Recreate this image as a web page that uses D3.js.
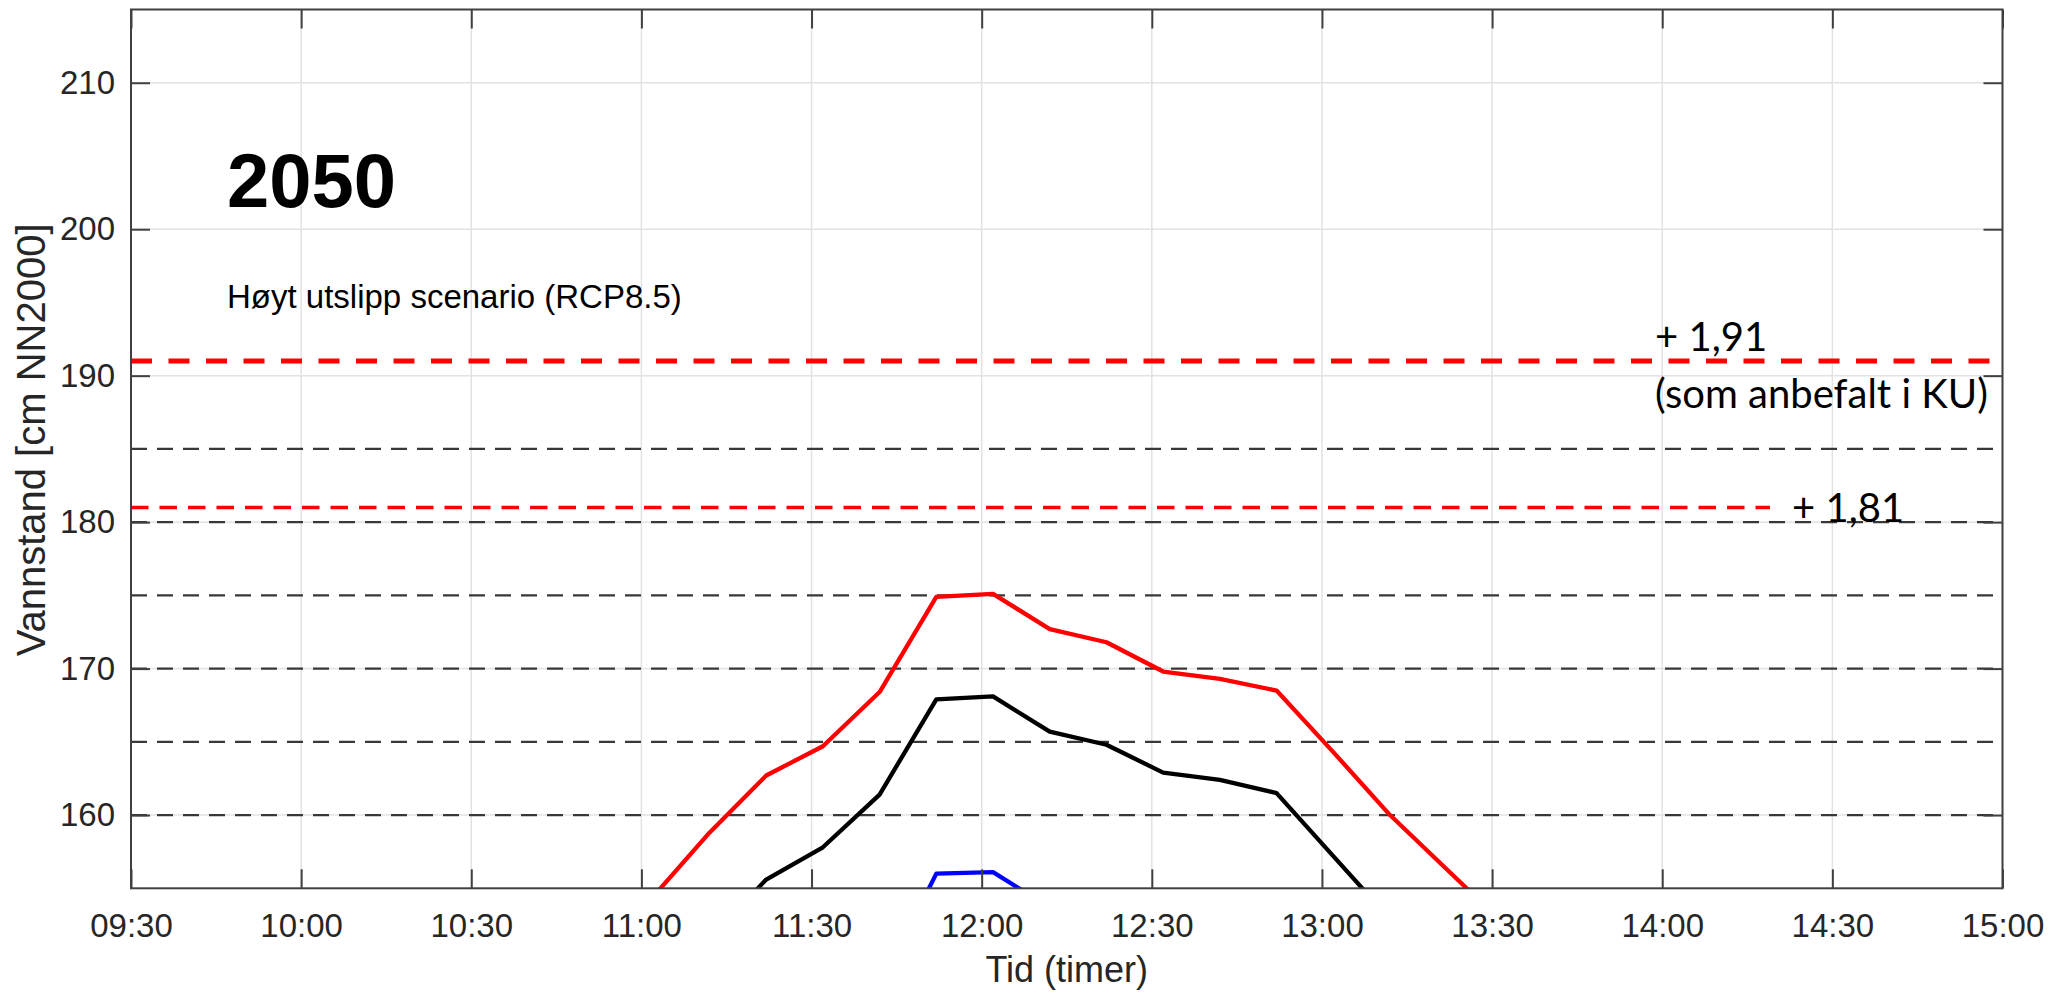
<!DOCTYPE html>
<html>
<head>
<meta charset="utf-8">
<script src="https://cdn.jsdelivr.net/npm/d3@7"></script>
<style>
  body { margin: 0; background: #fff; }
  svg { display: block; }
  .axis text { font-family: "Liberation Sans", Arial, Helvetica, sans-serif; fill: #262626; }
  .axis line { stroke: #404040; stroke-width: 2; }
  .axis path { display: none; }
</style>
</head>
<body>
<div id="chart"></div>
<script>
// tick labels
var xTicks = ["09:30","10:00","10:30","11:00","11:30","12:00","12:30","13:00","13:30","14:00","14:30","15:00"];
var yTicks = [160, 170, 180, 190, 200, 210];

// sample times (10 min steps) and water level series [cm NN2000]
var sampleTimes = ["11:02","11:12","11:22","11:32","11:42","11:52","12:02","12:12","12:22","12:32","12:42","12:52","13:02","13:12","13:22","13:32"];
var redSeries   = [154.4, 158.8, 162.7, 164.7, 168.4, 174.9, 175.1, 172.7, 171.8, 169.8, 169.3, 168.5, 164.3, 160.0, 156.3, 152.6];
var blackSeries = [null, 151.5, 155.6, 157.8, 161.4, 167.9, 168.1, 165.7, 164.8, 162.9, 162.4, 161.5, 157.2, 152.9, null, null];
var blueSeries  = [null, null, null, null, 148.3, 156.0, 156.1, 153.7, null, null, null, null, null, null, null, null];

// reference levels
var greyLevels = [160, 165, 170, 175, 180, 185];
var redLevels = [191, 181];
var redLevelEnds = ["15:00", "14:19"];
var redLevelLabels = ["+ 1,91", "+ 1,81"];

function toMin(s) { var p = s.split(":"); return +p[0] * 60 + +p[1]; }
function fmt(m) { var h = Math.floor(m / 60), mm = m % 60; return (h < 10 ? "0" : "") + h + ":" + (mm < 10 ? "0" : "") + mm; }

var width = 2051, height = 993;
var pLeft = 131, pRight = 2002.5, pTop = 9.5, pBottom = 888.3;

var svg = d3.select("#chart").append("svg")
    .attr("width", width)
    .attr("height", height);

svg.append("rect").attr("width", width).attr("height", height).attr("fill", "#fff");

var x = d3.scaleLinear().domain([toMin("09:30"), toMin("15:00")]).range([pLeft, pRight]);
var y = d3.scaleLinear().domain([155, 215]).range([pBottom, pTop]);

svg.append("clipPath").attr("id", "plot")
  .append("rect").attr("x", pLeft).attr("y", pTop).attr("width", pRight - pLeft).attr("height", pBottom - pTop);

// grid
var grid = svg.append("g");
grid.selectAll(".gx").data(xTicks).enter().append("line")
    .attr("x1", function(d){ return x(toMin(d)); })
    .attr("x2", function(d){ return x(toMin(d)); })
    .attr("y1", pTop).attr("y2", pBottom)
    .attr("stroke", "#e2e2e2").attr("stroke-width", 1.5);
grid.selectAll(".gy").data(yTicks).enter().append("line")
    .attr("x1", pLeft).attr("x2", pRight)
    .attr("y1", function(d){ return y(d); })
    .attr("y2", function(d){ return y(d); })
    .attr("stroke", "#e2e2e2").attr("stroke-width", 1.5);

// grey dashed levels
svg.append("g").selectAll("line").data(greyLevels).enter().append("line")
    .attr("x1", pLeft).attr("x2", pRight)
    .attr("y1", function(d){ return y(d); })
    .attr("y2", function(d){ return y(d); })
    .attr("stroke", "#383838").attr("stroke-width", 2.2)
    .attr("stroke-dasharray", "16,10");

// red dashed levels
svg.append("g").selectAll("line").data(redLevels).enter().append("line")
    .attr("x1", pLeft)
    .attr("x2", function(d, i){ return x(toMin(redLevelEnds[i])); })
    .attr("y1", function(d){ return y(d); })
    .attr("y2", function(d){ return y(d); })
    .attr("stroke", "#ff0000")
    .attr("stroke-width", function(d, i){ return i == 0 ? 5 : 3.5; })
    .attr("stroke-dasharray", function(d, i){ return i == 0 ? "21,16.5" : "17.5,11"; });

// series
var line = d3.line()
    .defined(function(d){ return d[1] != null; })
    .x(function(d){ return x(toMin(d[0])); })
    .y(function(d){ return y(d[1]); });

var series = [
  { values: redSeries, color: "#ff0000" },
  { values: blackSeries, color: "#000000" },
  { values: blueSeries, color: "#0000ff" }
];
var lines = svg.append("g").attr("clip-path", "url(#plot)");
series.forEach(function(s){
  lines.append("path")
    .datum(sampleTimes.map(function(t, i){ return [t, s.values[i]]; }))
    .attr("d", line)
    .attr("fill", "none")
    .attr("stroke", s.color)
    .attr("stroke-width", 4.3)
    .attr("stroke-linejoin", "round");
});

// axes
var xAxis = d3.axisBottom(x)
    .tickValues(xTicks.map(toMin))
    .tickFormat(fmt)
    .tickSizeInner(-19).tickSizeOuter(0).tickPadding(25);
svg.append("g").attr("class", "axis")
    .attr("transform", "translate(0," + pBottom + ")")
    .call(xAxis)
    .selectAll("text").style("font-size", "33px");

svg.append("g").attr("class", "axis")
    .attr("transform", "translate(0," + pTop + ")")
    .call(d3.axisTop(x).tickValues(xTicks.map(toMin)).tickFormat("").tickSizeInner(-19).tickSizeOuter(0));

var yAxis = d3.axisLeft(y)
    .tickValues(yTicks)
    .tickSizeInner(-19).tickSizeOuter(0).tickPadding(16);
svg.append("g").attr("class", "axis")
    .attr("transform", "translate(" + pLeft + ",0)")
    .call(yAxis)
    .selectAll("text").style("font-size", "33px");

svg.append("g").attr("class", "axis")
    .attr("transform", "translate(" + pRight + ",0)")
    .call(d3.axisRight(y).tickValues(yTicks).tickFormat("").tickSizeInner(-19).tickSizeOuter(0));

// box
svg.append("rect")
    .attr("x", pLeft).attr("y", pTop)
    .attr("width", pRight - pLeft).attr("height", pBottom - pTop)
    .attr("fill", "none").attr("stroke", "#404040").attr("stroke-width", 2);

// axis labels
svg.append("text")
    .attr("x", (pLeft + pRight) / 2).attr("y", 982)
    .attr("text-anchor", "middle")
    .style("font-family", "Liberation Sans, Arial, sans-serif")
    .style("font-size", "36px").style("fill", "#262626")
    .text("Tid (timer)");

svg.append("text")
    .attr("transform", "translate(45," + ((pTop + pBottom) / 2 - 9) + ") rotate(-90)")
    .attr("text-anchor", "middle")
    .style("font-family", "Liberation Sans, Arial, sans-serif")
    .style("font-size", "40px").style("fill", "#262626")
    .text("Vannstand [cm NN2000]");

// in-plot texts
svg.append("text")
    .attr("x", 227).attr("y", 207)
    .style("font-family", "Liberation Sans, Arial, sans-serif")
    .style("font-size", "76px").style("font-weight", "bold").style("fill", "#000")
    .text("2050");

svg.append("text")
    .attr("x", 227).attr("y", 308)
    .style("font-family", "Liberation Sans, Arial, sans-serif")
    .style("font-size", "33px").style("fill", "#000")
    .text("Høyt utslipp scenario (RCP8.5)");

// level annotations
var annot = svg.append("g")
    .style("font-family", "Lato, 'Open Sans', sans-serif")
    .style("font-size", "40px").style("fill", "#000");
annot.append("text").attr("x", 1655).attr("y", y(redLevels[0]) - 10).text(redLevelLabels[0]);
annot.append("text").attr("x", 1655).attr("y", y(redLevels[0]) + 47).text("(som anbefalt i KU)");
annot.append("text").attr("x", 1792).attr("y", y(redLevels[1]) + 15).text(redLevelLabels[1]);
</script>
</body>
</html>
